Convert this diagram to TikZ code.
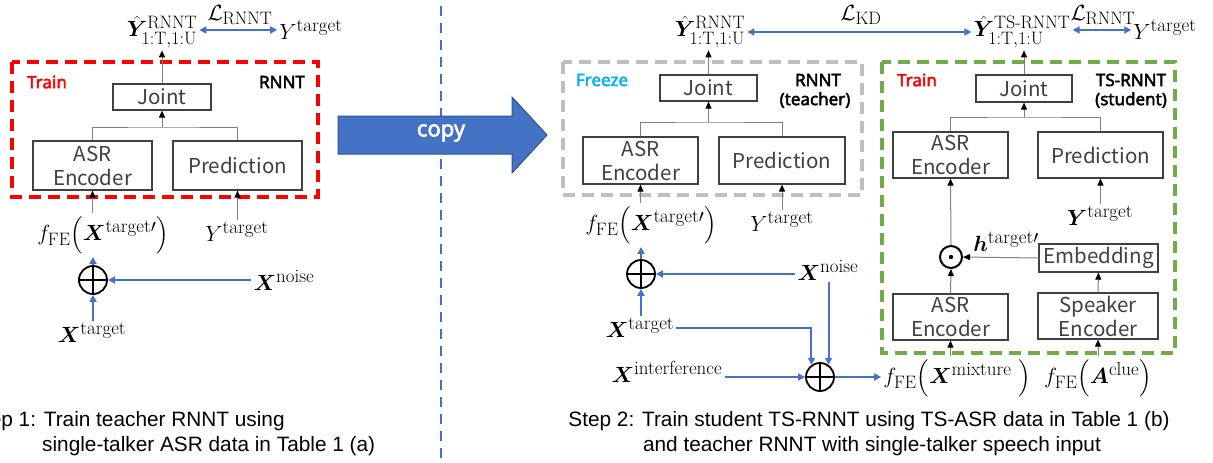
\RequirePackage{fix-cm}
\documentclass[tikz,border=0pt]{standalone}
\usepackage{amsmath,bm}
\usepackage{fontspec}
\newfontfamily\boxf{Noto Sans CJK JP}
\newfontfamily\bsf{Noto Sans}[AutoFakeBold=2.5]
\newfontfamily\capf{Liberation Sans}
\usetikzlibrary{arrows.meta,calc}
\DeclareMathSizes{22}{22}{18}{14}
\newcommand{\sps}[1]{\mbox{\fontsize{19}{20}\selectfont #1}}
\definecolor{myblue}{HTML}{4472C4}
\definecolor{darkblue}{HTML}{2F528F}
\definecolor{boxc}{HTML}{404040}
\definecolor{glc}{HTML}{808080}
\definecolor{grayd}{HTML}{BFBFBF}
\definecolor{greend}{HTML}{70AD47}
\definecolor{redd}{HTML}{FF0000}
\definecolor{cyand}{HTML}{00B0F0}
\begin{document}
\begin{tikzpicture}[x=1pt,y=-1pt,
  box/.style={draw=boxc, line width=1.2pt, fill=white, inner sep=0pt, align=center,
    text=boxc, font=\boxf\fontsize{20.5}{24}\selectfont},
  lab/.style={inner sep=2pt, font=\fontsize{22}{26}\selectfont},
  loss/.style={inner sep=0pt, font=\fontsize{22}{26}\selectfont},
  gl/.style={draw=glc, line width=1pt},
  garrow/.style={draw=glc, line width=1pt, -{Triangle[length=7pt,width=6pt,color=black]}},
  barrow/.style={draw=myblue, line width=2pt, -{Triangle[length=7pt,width=7pt]}},
  bdarrow/.style={draw=myblue, line width=2pt, {Triangle[length=7pt,width=7pt]}-{Triangle[length=7pt,width=7pt]}},
  tag/.style={font=\bsf\bfseries\fontsize{17}{20}\selectfont, inner sep=0pt, align=center},
  dbox/.style={line width=4pt, dash pattern=on 12pt off 7pt},
  opl/.style={circle, draw=black, line width=1.8pt, minimum size=28pt, inner sep=0pt},
  captext/.style={font=\capf\fontsize{20.8}{24}\selectfont, inner sep=0pt}
]
\useasboundingbox (0,0) rectangle (1213,463);
\clip (0,0) rectangle (1213,463);

% separator and copy arrow
\draw[myblue, line width=2.5pt, dash pattern=on 10pt off 7pt] (441,6) -- (441,463);
\filldraw[fill=myblue, draw=darkblue, line width=1pt]
  (338,116) -- (512,116) -- (512,97) -- (547,135) -- (512,173) -- (512,154) -- (338,154) -- cycle;
\node[font=\bsf\bfseries\fontsize{22}{26}\selectfont, text=white] (copy) at (441,133) {copy};

% ---------------- Step 1 ----------------
\draw[dbox, draw=redd] (12,62) rectangle (318,197);
\node[tag, text=redd] (trainL) at (47,82) {Train};
\node[tag] (rnntL) at (282,82) {RNNT};
\node[box, minimum width=98pt, minimum height=26pt] (JointL) at (162,97) {Joint};
\node[box, minimum width=119pt, minimum height=49pt] (ASRL) at (92.5,165.5) {ASR\\Encoder};
\node[box, minimum width=129pt, minimum height=49pt] (PredL) at (237.5,165.5) {Prediction};
\coordinate (bL) at (162,127);
\draw[gl] (ASRL.north) |- (bL) -| (PredL.north);
\draw[garrow] (bL) -- (JointL.south);

\node[lab] (YhL) at (162,32) {$\hat{\bm{Y}}^{\mathrm{RNNT}}_{1:\mathrm{T},1:\mathrm{U}}$};
\node[loss] (LrL) at (240,15) {$\mathcal{L}_{\mathrm{RNNT}}$};
\node[lab] (YtL0) at (311,30) {$Y^{\sps{target}}$};
\draw[garrow] (JointL.north) -- (JointL.north |- YhL.south);
\draw[bdarrow] (YhL.east |- YtL0.west) -- (YtL0.west);

\node[lab] (fL) at (103,235) {$f_{\mathrm{FE}}\Bigl(\bm{X}^{\sps{target}\prime}\Bigr)$};
\node[lab] (YtL) at (237,232) {$Y^{\sps{target}}$};
\node[opl] (opL) at (93,280) {};
\draw[line width=2.2pt] (opL.north) -- (opL.south) (opL.west) -- (opL.east);
\node[lab] (XnL) at (284,280) {$\bm{X}^{\sps{noise}}$};
\node[lab] (XtL) at (92,333) {$\bm{X}^{\sps{target}}$};
\draw[garrow] (ASRL.south |- fL.north) -- (ASRL.south);
\draw[garrow] (PredL.south |- YtL.north) -- (PredL.south);
\draw[barrow] (opL.north) -- (opL.north |- fL.south);
\draw[barrow] (XnL.west |- opL.east) -- (opL.east);
\draw[barrow] (XtL.north -| opL.south) -- (opL.south);

\node[captext, anchor=west] (c1a) at (-30,421) {Step 1: Train teacher RNNT using};
\node[captext, anchor=west] (c1b) at (42,446) {single-talker ASR data in Table 1 (a)};

% ---------------- Step 2: teacher ----------------
\draw[dbox, draw=grayd] (563,62) rectangle (862,195);
\node[tag, text=cyand] (freeze) at (602,80) {Freeze};
\node[tag] (rnntT) at (818,80) {RNNT};
\node[tag] (teach) at (815,100) {(teacher)};
\node[box, minimum width=97pt, minimum height=26pt] (JointT) at (708.5,88) {Joint};
\node[box, minimum width=115pt, minimum height=47pt] (ASRT) at (640.5,160.5) {ASR\\Encoder};
\node[box, minimum width=126pt, minimum height=47pt] (PredT) at (782,160.5) {Prediction};
\coordinate (bT) at (708.5,122);
\draw[gl] (ASRT.north) |- (bT) -| (PredT.north);
\draw[garrow] (bT) -- (JointT.south);

\node[lab] (YhT) at (710,32) {$\hat{\bm{Y}}^{\mathrm{RNNT}}_{1:\mathrm{T},1:\mathrm{U}}$};
\node[loss] (LKD) at (861,15) {$\mathcal{L}_{\mathrm{KD}}$};
\draw[garrow] (JointT.north) -- (JointT.north |- YhT.south);

\node[lab] (fT) at (651,225) {$f_{\mathrm{FE}}\Bigl(\bm{X}^{\sps{target}\prime}\Bigr)$};
\node[lab] (YtT) at (782,222) {$Y^{\sps{target}}$};
\node[opl] (opT) at (641,274) {};
\draw[line width=2.2pt] (opT.north) -- (opT.south) (opT.west) -- (opT.east);
\node[lab] (XnT) at (828,270) {$\bm{X}^{\sps{noise}}$};
\node[lab] (XtT) at (640,328) {$\bm{X}^{\sps{target}}$};
\node[lab] (XiT) at (667,372) {$\bm{X}^{\sps{interference}}$};
\node[opl] (op2) at (820,377) {};
\draw[line width=2.2pt] (op2.north) -- (op2.south) (op2.west) -- (op2.east);
\draw[garrow] (ASRT.south |- fT.north) -- (ASRT.south);
\draw[garrow] (PredT.south |- YtT.north) -- (PredT.south);
\draw[barrow] (opT.north) -- (opT.north |- fT.south);
\draw[barrow] (XnT.west |- opT.east) -- (opT.east);
\draw[barrow] (XtT.north -| opT.south) -- (opT.south);
\draw[barrow] (XtT.east) -| (op2.125);
\draw[barrow] (op2.55 |- XnT.south) -- (op2.55);
\draw[barrow] (XiT.east |- op2.west) -- (op2.west);

% ---------------- Step 2: student ----------------
\draw[dbox, draw=greend] (882,62) rectangle (1175,353);
\node[tag, text=redd] (trainS) at (917,80) {Train};
\node[tag] (tsr) at (1131,80) {TS-RNNT};
\node[tag] (stud) at (1131,100) {(student)};
\node[box, minimum width=96pt, minimum height=27pt] (JointS) at (1024,88.5) {Joint};
\node[box, minimum width=115pt, minimum height=46pt] (ASRS1) at (950.5,155) {ASR\\Encoder};
\node[box, minimum width=125pt, minimum height=46pt] (PredS) at (1100.5,155) {Prediction};
\node[box, minimum width=119pt, minimum height=28pt] (Emb) at (1098.5,258) {Embedding};
\node[box, minimum width=115pt, minimum height=46pt] (ASRS2) at (950.5,317) {ASR\\Encoder};
\node[box, minimum width=120pt, minimum height=46pt] (Spk) at (1098,316) {Speaker\\Encoder};
\coordinate (bS) at (1024,117);
\draw[gl] (ASRS1.north) |- (bS) -| (PredS.north);
\draw[garrow] (bS) -- (JointS.south);

\node[circle, draw=black, line width=2pt, minimum size=22pt, inner sep=0pt] (odot) at (951,257) {};
\fill (odot.center) circle (2.2pt);
\node[lab] (ht) at (1006,242) {$\bm{h}^{\sps{target}\prime}$};
\node[lab] (YtS) at (1100,216) {$\bm{Y}^{\sps{target}}$};

\node[lab] (YhS) at (1022,32) {$\hat{\bm{Y}}^{\mathrm{TS\text{-}RNNT}}_{1:\mathrm{T},1:\mathrm{U}}$};
\node[loss] (LrS) at (1103,15) {$\mathcal{L}_{\mathrm{RNNT}}$};
\node[lab] (YtS0) at (1165,30) {$Y^{\sps{target}}$};
\draw[garrow] (JointS.north) -- (JointS.north |- YhS.south);
\draw[bdarrow] (YhT.east) -- (YhS.west);
\draw[bdarrow] (YhS.east |- YtS0.west) -- (YtS0.west);

\node[lab] (fmix) at (957,378) {$f_{\mathrm{FE}}\Bigl(\bm{X}^{\sps{mixture}}\ \Bigr)$};
\node[lab] (fclue) at (1098,378) {$f_{\mathrm{FE}}\Bigl(\bm{A}^{\sps{clue}}\Bigr)$};
\draw[barrow] (op2.east) -- (fmix.west |- op2.east);

\draw[garrow] (ASRS2.north) -- (odot.south);
\draw[garrow] (odot.north) -- (ASRS1.south);
\draw[garrow] (Emb.west) -- (odot.east);
\draw[garrow] (Spk.north) -- (Emb.south);
\draw[garrow] (PredS.south |- YtS.north) -- (PredS.south);
\draw[garrow] (ASRS2.south |- fmix.north) -- (ASRS2.south);
\draw[garrow] (Spk.south |- fclue.north) -- (Spk.south);

\node[captext] (c2a) at (869,421) {Step 2: Train student TS-RNNT using TS-ASR data in Table 1 (b)};
\node[captext] (c2b) at (872,446) {and teacher RNNT with single-talker speech input};
\end{tikzpicture}
\end{document}
